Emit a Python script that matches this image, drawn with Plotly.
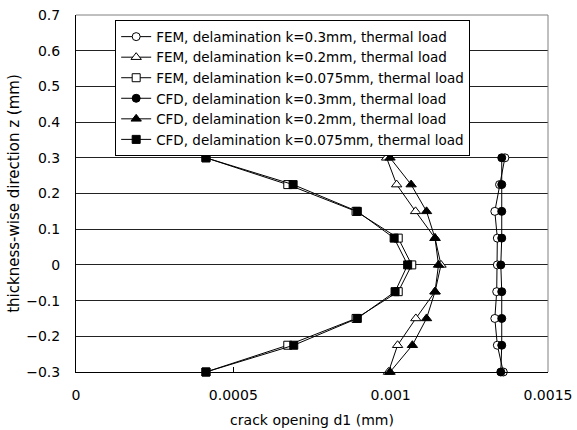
import plotly.graph_objects as go

z = [0.3, 0.225, 0.15, 0.075, 0.0, -0.075, -0.15, -0.225, -0.3]

fem_k03 = [0.001363, 0.001346, 0.001331, 0.001339, 0.001339, 0.001337, 0.001331, 0.001339, 0.001358]
fem_k02 = [0.000987, 0.001019, 0.001079, 0.001141, 0.001160, 0.001141, 0.001080, 0.001022, 0.000993]
fem_k0075 = [0.000413, 0.000673, 0.000890, 0.001024, 0.001067, 0.001024, 0.000890, 0.000673, 0.000413]
cfd_k03 = [0.001353, 0.001353, 0.001353, 0.001353, 0.001350, 0.001353, 0.001353, 0.001353, 0.001350]
cfd_k02 = [0.000998, 0.001065, 0.001114, 0.001141, 0.001152, 0.001141, 0.001114, 0.001069, 0.000998]
cfd_k0075 = [0.000413, 0.000690, 0.000894, 0.001011, 0.001054, 0.001014, 0.000894, 0.000692, 0.000413]

names = [
    "FEM, delamination k=0.3mm, thermal load",
    "FEM, delamination k=0.2mm, thermal load",
    "FEM, delamination k=0.075mm, thermal load",
    "CFD, delamination k=0.3mm, thermal load",
    "CFD, delamination k=0.2mm, thermal load",
    "CFD, delamination k=0.075mm, thermal load",
]
series = [fem_k03, fem_k02, fem_k0075, cfd_k03, cfd_k02, cfd_k0075]
symbols = ["circle", "triangle-up", "square", "circle", "triangle-up", "square"]
fills = ["white", "white", "white", "black", "black", "black"]
sizes = [8, 9, 8, 8, 9, 8]

xticks = [0, 0.0005, 0.001, 0.0015]
xticktext = ["0", "0.0005", "0.001", "0.0015"]

FONT = "DejaVu Sans, sans-serif"

fig = go.Figure()
for name, xs, sym, fc, sz in zip(names, series, symbols, fills, sizes):
    fig.add_trace(go.Scatter(
        x=xs, y=z, name=name, mode="lines+markers",
        line=dict(color="black", width=1),
        marker=dict(symbol=sym, size=sz, color=fc, line=dict(color="black", width=1)),
        cliponaxis=False,
    ))

fig.update_layout(
    width=577, height=430,
    margin=dict(l=76, r=29, t=15, b=58),
    paper_bgcolor="white", plot_bgcolor="white",
    font=dict(family=FONT, size=14, color="black"),
    showlegend=True,
    legend=dict(
        x=0.083, y=0.985, xanchor="left", yanchor="top",
        bgcolor="white", bordercolor="black", borderwidth=1,
        font=dict(family=FONT, size=13.5, color="black"),
        tracegroupgap=0, itemwidth=30,
    ),
    xaxis=dict(
        range=[0, 0.0015], tickvals=xticks, ticktext=xticktext,
        showgrid=False, zeroline=False, automargin=False,
        showline=True, linecolor="black", linewidth=1,
        ticks="inside", ticklen=5, tickcolor="black",
        ticklabelstandoff=10,
        title=dict(text="crack opening d1 (mm)", font=dict(size=14), standoff=13),
    ),
    yaxis=dict(
        range=[-0.3, 0.7], dtick=0.1, tick0=0,
        showgrid=True, gridcolor="#222222", gridwidth=1,
        zeroline=False, automargin=False,
        showline=True, linecolor="black", linewidth=1,
        ticks="", ticklabelstandoff=12,
        title=dict(text="thickness-wise direction z (mm)", font=dict(size=15), standoff=2),
    ),
    shapes=[
        dict(type="line", xref="paper", yref="paper", x0=0, x1=1, y0=1, y1=1,
             line=dict(color="#808080", width=1)),
        dict(type="line", xref="paper", yref="paper", x0=1, x1=1, y0=0, y1=1,
             line=dict(color="#808080", width=1)),
    ],
)

fig.write_html("out.html")
